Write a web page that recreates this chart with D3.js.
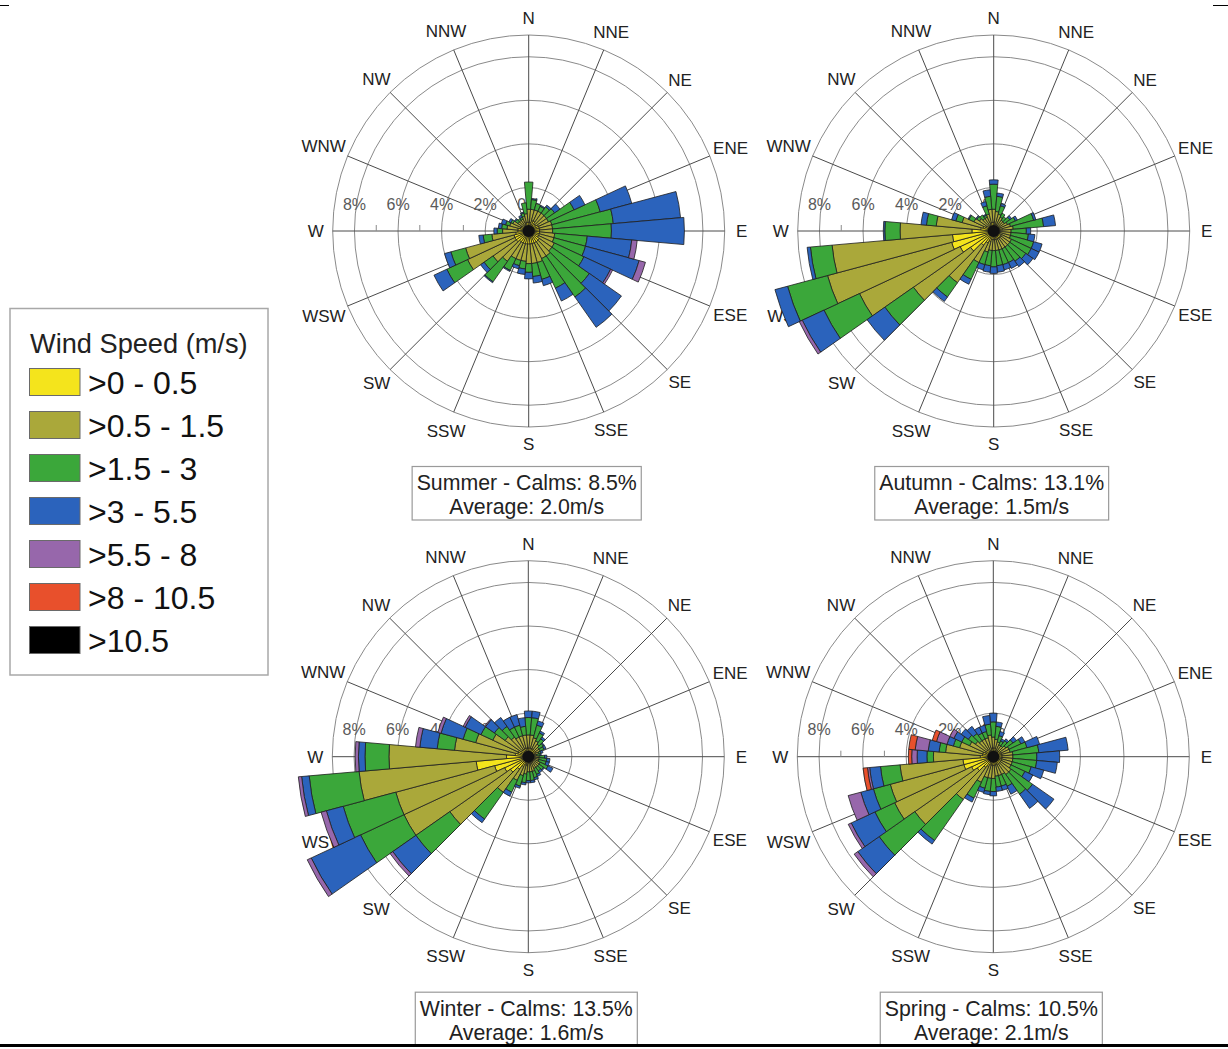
<!DOCTYPE html>
<html>
<head>
<meta charset="utf-8">
<script src="https://cdn.jsdelivr.net/npm/d3@7"></script>
<style>
  body { margin: 0; background: #fff; }
  svg { display: block; }
  text { font-family: "Liberation Sans", Arial, Helvetica, sans-serif; }
</style>
</head>
<body>
<svg id="chart" width="1228" height="1049"></svg>
<script>
// Direction bins (degrees, centre of each 10-degree sector)
const directions = [0,10,20,30,40,50,60,70,80,90,100,110,120,130,140,150,160,170,
                    180,190,200,210,220,230,240,250,260,270,280,290,300,310,320,330,340,350];
const compassLabels = ["N","NNE","NE","ENE","E","ESE","SE","SSE","S","SSW","SW","WSW","W","WNW","NW","NNW"];
const ringValues = [2,4,6,8,9];
const ringLabels = [8,6,4,2,0];
const minorTicks = [1,3,5,7];
const speedClasses = [">0 - 0.5", ">0.5 - 1.5", ">1.5 - 3", ">3 - 5.5", ">5.5 - 8", ">8 - 10.5", ">10.5"];
const speedColors = ["#f4e41c", "#aaa83a", "#3ba73a", "#2b63bc", "#9767ab", "#e8502c", "#000000"];

// Frequency (%) per direction, one row per wind-speed class (lowest class first)
const summer = [
  [.4,.4,.5,.5,.4,.4,.5,.5,.5,.5,.5,.5,.5,.6,.6,.6,.6,.6,.6,.6,.6,.6,.6,.7,.7,.7,.6,.5,.5,.4,.4,.3,.3,.3,.4,.4],
  [.6,.6,.5,.5,.6,.6,.5,.6,.6,.6,.7,.7,.8,.7,.8,.8,.9,.9,.9,.8,.8,.8,1.1,1.3,2.4,2.3,1.1,.7,.5,.5,.4,.3,.3,.3,.3,.4],
  [1.25,.45,.3,.25,.35,.45,1.3,2.3,2.8,2.7,1.5,1.5,1.5,2.1,2.3,1.5,.8,.6,.4,.35,.25,.6,1.15,.5,1.05,.7,.4,.25,.25,.2,.1,.15,.1,.1,.15,.5],
  [0,.05,0,.05,.1,.3,.55,1.5,3.1,3.35,2.05,2.55,1.35,1.8,1.7,.65,.3,.3,.3,.25,.15,.05,.05,.2,.65,.3,.2,.15,.15,.2,.1,.05,0,.1,.05,0],
  [0,0,0,0,0,0,0,0,0,0,.25,.3,.1,0,0,0,0,0,0,0,0,0,0,0,0,0,0,0,0,0,0,0,0,0,0,0]
];
const autumn = [
  [.4,.3,.3,.3,.3,.3,.3,.3,.4,.3,.3,.3,.4,.4,.4,.4,.4,.4,.4,.4,.5,.6,.8,1.3,1.7,2.0,1.9,1.0,.6,.5,.4,.3,.3,.3,.4,.4],
  [.6,.6,.5,.4,.3,.3,.4,.5,.5,.5,.5,.5,.5,.5,.5,.5,.5,.5,.5,.5,.5,1.0,2.1,3.2,5.1,5.9,5.55,3.3,2.05,1.0,.6,.5,.4,.4,.4,.6],
  [1.15,.7,.4,.2,.2,.3,.4,1.1,1.4,.7,.8,1.1,1.0,.9,.8,.7,.7,.7,.75,.7,.6,.85,.8,1.6,1.8,1.9,1.0,.7,.45,.3,.25,.15,.2,.1,.4,.6],
  [.2,.15,.1,0,0,.1,.1,.1,.55,.2,.3,.4,.4,.4,.3,.3,.25,.3,.3,.3,.25,.25,.25,1.0,1.1,.6,.15,.07,.25,.2,.05,.05,0,.05,.2,.3],
  [0,0,0,0,0,0,0,0,0,0,0,0,0,0,0,0,0,0,0,0,0,0,0,0,.15,0,0,0,0,0,0,0,0,0,0,0]
];
const winter = [
  [.4,.4,.4,.4,.4,.4,.4,.3,.3,.3,.3,.3,.3,.3,.3,.3,.3,.3,.3,.4,.4,.5,.7,1.0,1.2,1.6,2.4,1.0,.6,.5,.5,.4,.4,.4,.4,.4],
  [.6,.6,.5,.4,.3,.2,.2,.2,.1,.2,.2,.2,.3,.3,.3,.3,.4,.4,.4,.4,.5,.7,1.3,3.4,5.1,4.7,5.4,5.4,2.8,2.0,1.3,.9,.7,.6,.6,.6],
  [.8,.8,.6,.4,.3,.25,.2,.1,.15,.25,.35,.35,.4,.25,.2,.3,.3,.4,.4,.4,.5,.6,1.5,1.9,2.2,2.5,2.3,1.1,.8,.6,.6,.6,.6,.5,.5,.4],
  [.3,.3,.2,.1,.1,.05,.1,.1,.05,.1,.15,.15,.25,.05,.1,.1,.1,.1,.1,.1,.1,.2,.2,1.3,2.5,.8,.35,.3,.8,1.05,.8,.5,.5,.5,.5,.4],
  [0,0,0,0,0,0,0,0,0,0,0,0,0,0,0,0,0,0,0,0,0,0,0,.15,.2,.25,.15,.15,.2,.15,.1,.05,0,0,0,0]
];
const spring = [
  [.4,.4,.3,.3,.3,.4,.4,.4,.4,.4,.4,.4,.4,.4,.4,.4,.4,.4,.4,.4,.4,.5,.6,.9,1.1,1.4,1.4,.6,.5,.5,.4,.4,.4,.3,.3,.4],
  [.5,.4,.4,.3,.3,.3,.4,.4,.5,.5,.5,.5,.5,.6,.6,.5,.5,.5,.6,.6,.6,.8,1.8,3.5,3.9,3.5,2.9,2.15,1.7,1.1,.8,.6,.5,.6,.6,.6],
  [.7,.6,.3,.2,.3,.4,.6,.8,1.2,1.1,1.1,.9,.7,1.2,1.1,.6,.5,.5,.6,.6,.5,.8,2.3,2.0,1.0,.8,.9,.3,.3,.3,.4,.4,.4,.3,.3,.5],
  [.4,.2,.2,.1,.1,.2,.2,.6,1.35,1.05,.95,.6,.4,1.2,.8,.4,.2,.2,.2,.15,.2,.2,.2,1.2,1.2,.6,.5,.45,.5,.3,.4,.4,.4,.3,.3,.4],
  [0,0,0,0,0,0,0,0,0,0,0,0,0,0,0,0,0,0,0,0,0,0,0,.2,.15,.6,.1,.25,.6,.5,.2,0,0,0,0,0],
  [0,0,0,0,0,0,0,0,0,0,0,0,0,0,0,0,0,0,0,0,0,0,0,0,0,0,.2,.15,.3,.2,0,0,0,0,0,0]
];

const seasonNames = ["Summer", "Autumn", "Winter", "Spring"];
const seasonCalms = ["8.5%", "13.1%", "13.5%", "10.5%"];
const seasonAverages = ["2.0m/s", "1.5m/s", "1.6m/s", "2.1m/s"];
const seasonData = [summer, autumn, winter, spring];

// ---- layout ----
const svg = d3.select("#chart");
svg.append("rect").attr("width", 1228).attr("height", 1049).attr("fill", "#fff");

const centers = [[528.7, 231], [993.7, 231], [528.3, 756.7], [993.3, 756.7]];
const R = 196;
const rScale = d3.scaleLinear().domain([0, 9]).range([0, R]);
const angle = d3.scaleLinear().domain([0, 360]).range([0, 2 * Math.PI]);
const classKeys = speedClasses.map((d, i) => "c" + i);

function drawRose(g, data) {
  // rings
  g.selectAll("circle.ring").data(ringValues).join("circle")
    .attr("class", "ring").attr("r", d => rScale(d))
    .attr("fill", "none").attr("stroke", "#8a8a8a").attr("stroke-width", 1);
  // spokes
  g.selectAll("line.spoke").data(compassLabels).join("line")
    .attr("class", "spoke")
    .attr("x1", 0).attr("y1", 0)
    .attr("x2", (d, i) => R * Math.sin(angle(i * 22.5)))
    .attr("y2", (d, i) => -R * Math.cos(angle(i * 22.5)))
    .attr("stroke", "#4a4a4a").attr("stroke-width", 1);
  // minor ticks on the west axis
  g.selectAll("line.tick").data(minorTicks).join("line")
    .attr("class", "tick")
    .attr("x1", d => -rScale(d)).attr("x2", d => -rScale(d))
    .attr("y1", -6).attr("y2", 0)
    .attr("stroke", "#8a8a8a").attr("stroke-width", 1);
  // percent labels
  g.selectAll("text.pct").data(ringLabels).join("text")
    .attr("class", "pct")
    .attr("x", d => -rScale(d)).attr("y", -27)
    .attr("text-anchor", "middle").attr("dy", "0.35em")
    .attr("font-size", 16).attr("fill", "#5a5a5a")
    .text(d => d + "%");
  // compass labels
  const lab = g.selectAll("text.cmp").data(compassLabels).join("text")
    .attr("class", "cmp")
    .attr("text-anchor", "middle").attr("dy", "0.36em")
    .attr("font-size", 17).attr("fill", "#222")
    .text(d => d);
  lab.each(function(d, i) {
    const a = angle(i * 22.5);
    const w = this.getComputedTextLength();
    const rad = 213 + Math.max(0, w - 20) * 0.4 * Math.abs(Math.sin(a));
    d3.select(this).attr("x", rad * Math.sin(a)).attr("y", -rad * Math.cos(a));
  });

  // stacked bars
  const rows = directions.map((dir, j) => {
    const o = { dir };
    classKeys.forEach((k, c) => { o[k] = data[c] ? data[c][j] : 0; });
    return o;
  });
  const stacked = d3.stack().keys(classKeys)(rows);
  const arc = d3.arc()
    .innerRadius(d => rScale(d[0]))
    .outerRadius(d => rScale(d[1]))
    .startAngle(d => angle(d.data.dir - 5))
    .endAngle(d => angle(d.data.dir + 5));
  g.selectAll("g.layer").data(stacked).join("g")
    .attr("class", "layer")
    .attr("fill", (d, i) => speedColors[i])
    .selectAll("path").data(d => d.filter(s => s[1] - s[0] > 0)).join("path")
    .attr("d", arc)
    .attr("stroke", "#1e1e1e").attr("stroke-width", 0.8).attr("stroke-linejoin", "miter");
  // hub where the sector outlines converge
  g.append("circle").attr("r", 6).attr("fill", "#111");
}

seasonData.forEach((data, k) => {
  const [cx, cy] = centers[k];
  const g = svg.append("g").attr("transform", `translate(${cx},${cy})`);
  drawRose(g, data);

  // caption box
  const cap = svg.append("g").attr("transform", `translate(${cx - 2},${cy + 235.5})`);
  const box = cap.append("rect").attr("fill", "#fff").attr("stroke", "#9a9a9a").attr("stroke-width", 1.2);
  const t1 = cap.append("text").attr("text-anchor", "middle").attr("y", 23.5)
    .attr("font-size", 21.3).attr("fill", "#222")
    .text(`${seasonNames[k]} - Calms: ${seasonCalms[k]}`);
  cap.append("text").attr("text-anchor", "middle").attr("y", 47.5)
    .attr("font-size", 21.3).attr("fill", "#222")
    .text(`Average: ${seasonAverages[k]}`);
  const w = t1.node().getComputedTextLength() + 9;
  box.attr("x", -w / 2).attr("y", 0).attr("width", w).attr("height", 53.5);
});

// legend
const legend = svg.append("g");
legend.append("rect").attr("x", 10).attr("y", 308.5).attr("width", 258).attr("height", 366.5)
  .attr("fill", "#fff").attr("stroke", "#a8a8a8").attr("stroke-width", 1.5);
legend.append("text").attr("x", 30).attr("y", 353).attr("font-size", 27.2).attr("fill", "#222")
  .text("Wind Speed (m/s)");
const items = legend.selectAll("g.item").data(speedClasses).join("g")
  .attr("class", "item")
  .attr("transform", (d, i) => `translate(0,${i * 43})`);
items.append("rect").attr("x", 29.5).attr("y", 368.5).attr("width", 50.5).attr("height", 27)
  .attr("fill", (d, i) => speedColors[i]).attr("stroke", "#6a6a6a").attr("stroke-width", 1);
items.append("text").attr("x", 88).attr("y", 393.5).attr("font-size", 32).attr("fill", "#111")
  .text(d => d);

// page frame marks
svg.append("line").attr("x1", 0).attr("x2", 9).attr("y1", 5.5).attr("y2", 5.5).attr("stroke", "#000");
svg.append("line").attr("x1", 1213).attr("x2", 1228).attr("y1", 5.5).attr("y2", 5.5).attr("stroke", "#000");
svg.append("line").attr("x1", 0).attr("x2", 1228).attr("y1", 1045.5).attr("y2", 1045.5)
  .attr("stroke", "#000").attr("stroke-width", 3);
</script>
</body>
</html>
